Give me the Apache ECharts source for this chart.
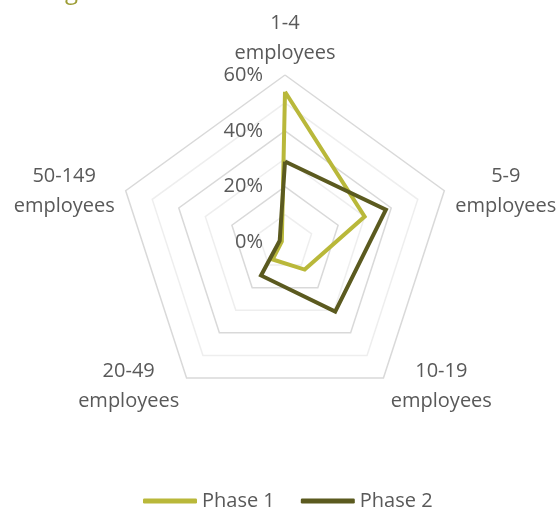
<!DOCTYPE html>
<html>
<head>
<meta charset="utf-8">
<script src="https://cdn.jsdelivr.net/npm/echarts@6/dist/echarts.min.js"></script>
<style>
html,body{margin:0;padding:0;background:#ffffff;}
#chart{width:560px;height:508px;}
</style>
</head>
<body>
<div id="chart"></div>
<script>
// Data (clockwise from top, as in the reference)
var categories = ['1-4 employees', '5-9 employees', '10-19 employees', '20-49 employees', '50-149 employees'];
var phase1 = [54, 30, 12, 7.5, 1.2];
var phase2 = [29, 38, 30.6, 14.6, 2];
var seriesNames = ['Phase 1', 'Phase 2'];
var axisMax = 60;
var tickStep = 10;

// ECharts draws radar indicators counter-clockwise; reorder to get clockwise layout
var order = [0, 4, 3, 2, 1];
function reorder(arr) { return order.map(function (i) { return arr[i]; }); }

var FONT = '"Open Sans", "Liberation Sans", sans-serif';
var TEXT = '#595959';

var chart = echarts.init(document.getElementById('chart'), null, {renderer: 'canvas'});

var indicators = reorder(categories).map(function (name, k) {
  var ind = {name: name, min: 0, max: axisMax};
  if (k === 0) {
    ind.nameGap = 7;
    ind.axisLabel = {
      show: true,
      color: TEXT,
      fontSize: 20,
      fontFamily: FONT,
      margin: 22,
      formatter: function (v) { return (v % 20 === 0) ? v + '%' : ''; }
    };
  }
  if (k === 1 || k === 4) {
    ind.nameTextStyle = {padding: [7, 0, 0, 0]};
  }
  return ind;
});

chart.setOption({
  animation: false,
  backgroundColor: '#ffffff',
  title: {
    text: 'g',
    left: 60,
    top: -25,
    textStyle: {color: '#9c9c34', fontSize: 24, fontWeight: 'normal', fontFamily: FONT}
  },
  legend: {
    data: seriesNames,
    left: 138,
    top: 486,
    itemWidth: 54,
    itemHeight: 5,
    itemGap: 26,
    icon: 'roundRect',
    textStyle: {color: TEXT, fontSize: 20, fontFamily: FONT}
  },
  radar: {
    center: [285, 242.5],
    radius: 167.5,
    startAngle: 90,
    shape: 'polygon',
    splitNumber: axisMax / tickStep,
    nameGap: 10,
    indicator: indicators,
    axisName: {
      color: TEXT,
      fontSize: 20,
      fontFamily: FONT,
      formatter: function (name) {
        return '{a|' + name.replace(' ', '\n') + '}';
      },
      rich: {
        a: {width: 104, align: 'center', lineHeight: 30, fontSize: 20, fontFamily: FONT, color: TEXT}
      }
    },
    axisLine: {show: false},
    axisTick: {show: false},
    axisLabel: {show: false},
    splitArea: {show: false},
    splitLine: {lineStyle: {color: ['#d9d9d9', '#eeeeee'], width: 1.5}}
  },
  series: [{
    type: 'radar',
    symbol: 'none',
    data: [
      {name: seriesNames[0], value: reorder(phase1),
       itemStyle: {color: '#b9b83a'},
       lineStyle: {color: '#b9b83a', width: 4, join: 'miter', miterLimit: 4}},
      {name: seriesNames[1], value: reorder(phase2),
       itemStyle: {color: '#5b5a1f'},
       lineStyle: {color: '#5b5a1f', width: 4, join: 'miter', miterLimit: 4}}
    ]
  }]
});
</script>
</body>
</html>
